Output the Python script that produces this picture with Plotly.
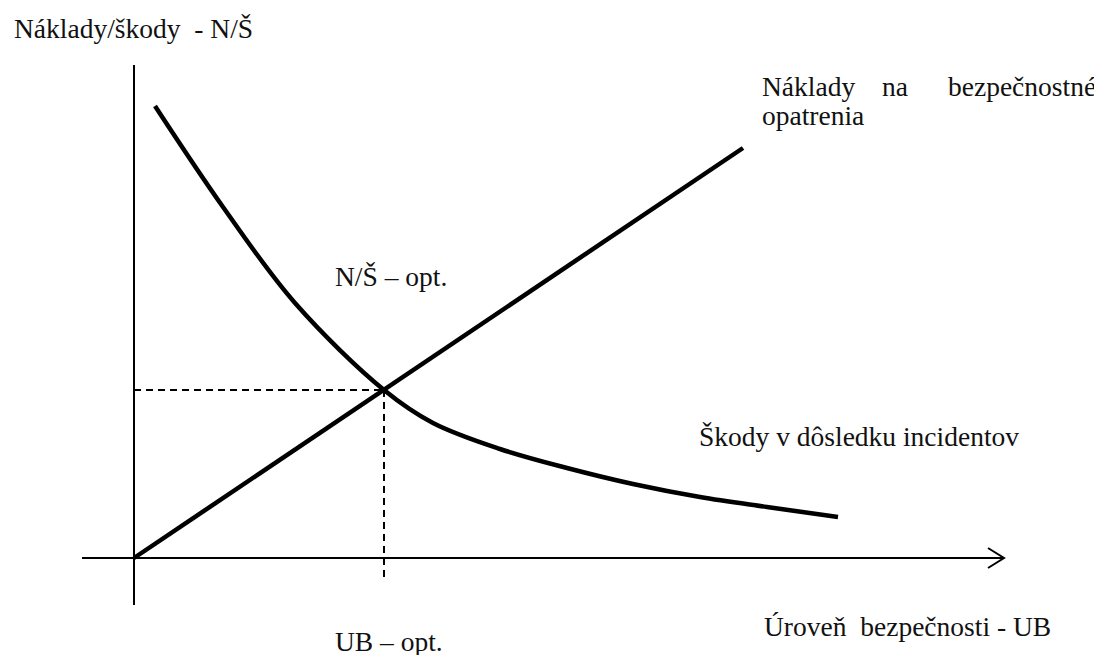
import plotly.graph_objects as go

# Conceptual chart: security level (x) vs. costs/damages (y), arbitrary units
# Costs of security measures (linear)
cost_x = [0, 609]
cost_y = [0, 410]

# Damages due to incidents (decreasing curve)
dmg_x = [21, 89, 161, 250, 299, 366, 433, 499, 566, 633, 704]
dmg_y = [452, 351, 255, 168, 135, 109, 90, 74, 61, 51, 41]

# Optimum point
opt_x = 250
opt_y = 168

# Axis extents
x_axis_ext = [-52, 870]
y_axis_ext = [-47, 493]

FONT = "Liberation Serif, Times New Roman, serif"
BLACK = "#000000"
FS = 27.5

fig = go.Figure()

# Axes
fig.add_trace(go.Scatter(x=x_axis_ext, y=[0, 0], mode="lines",
                         line=dict(color=BLACK, width=2), hoverinfo="skip"))
fig.add_trace(go.Scatter(x=[0, 0], y=y_axis_ext, mode="lines",
                         line=dict(color=BLACK, width=2), hoverinfo="skip"))
# Arrow head on x axis
fig.add_trace(go.Scatter(x=[x_axis_ext[1] - 16, x_axis_ext[1], x_axis_ext[1] - 16],
                         y=[10, 0, -10], mode="lines",
                         line=dict(color=BLACK, width=2), hoverinfo="skip"))

# Dashed guide lines
fig.add_trace(go.Scatter(x=[0, opt_x], y=[opt_y, opt_y], mode="lines",
                         line=dict(color=BLACK, width=2, dash="7px,5px"), hoverinfo="skip"))
fig.add_trace(go.Scatter(x=[opt_x, opt_x], y=[opt_y, -24], mode="lines",
                         line=dict(color=BLACK, width=2, dash="7px,5px"), hoverinfo="skip"))

# Curves
fig.add_trace(go.Scatter(x=cost_x, y=cost_y, mode="lines",
                         line=dict(color=BLACK, width=4.5), hoverinfo="skip"))
fig.add_trace(go.Scatter(x=dmg_x, y=dmg_y, mode="lines",
                         line=dict(color=BLACK, width=4.5, shape="spline", smoothing=1.0),
                         hoverinfo="skip"))

def label(text, x, y, xanchor="left", size=FS):
    fig.add_annotation(x=x, y=y, xref="x", yref="y", text=text, showarrow=False,
                       xanchor=xanchor, yanchor="middle",
                       font=dict(family=FONT, size=size, color="#111111"))

label("Náklady/škody&nbsp; - N/Š", -122, 530)
label("Náklady", 626, 472)
label("na", 761, 472, xanchor="center")
label("bezpečnostné", 964, 472, xanchor="right")
label("opatrenia", 626, 443)
label("N/Š – opt.", 199, 282)
label("Škody v dôsledku incidentov", 563, 122)
label("UB – opt.", 199, -83)
label("Úroveň&nbsp; bezpečnosti - UB", 628, -68)

# The page body adds an 8px margin, so the ranges are shifted to compensate
fig.update_layout(
    width=1102, height=655,
    margin=dict(l=0, r=0, t=0, b=0),
    paper_bgcolor="white", plot_bgcolor="white",
    showlegend=False,
    xaxis=dict(range=[-126, 976], visible=False, fixedrange=True),
    yaxis=dict(range=[-105, 550], visible=False, fixedrange=True),
)

fig.write_html("out.html")
